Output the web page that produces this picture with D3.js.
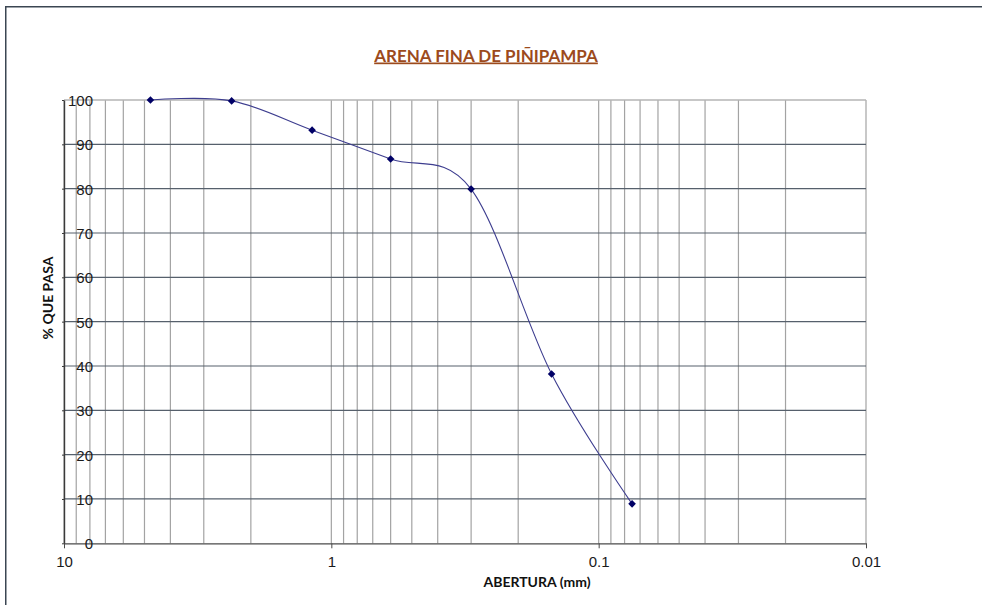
<!DOCTYPE html>
<html>
<head>
<meta charset="utf-8">
<script src="https://cdn.jsdelivr.net/npm/d3@7"></script>
<style>
  html, body { margin: 0; padding: 0; background: #ffffff; }
  svg { display: block; }
</style>
</head>
<body>
<svg id="chart" width="982" height="605"></svg>
<script>
// Granulometría: abertura de tamiz (mm) y porcentaje que pasa
const aberturas = [4.75, 2.36, 1.18, 0.6, 0.3, 0.15, 0.075];
const porcentajePasa = [100, 99.8, 93.2, 86.7, 79.9, 38.2, 8.9];

// Etiquetas de los ejes
const xTicksMayores = [10, 1, 0.1, 0.01];
const yTicks = [0, 10, 20, 30, 40, 50, 60, 70, 80, 90, 100];

const titulo = "ARENA FINA DE PIÑIPAMPA";
const tituloX = "ABERTURA (mm)";
const tituloY = "% QUE PASA";

const svg = d3.select("#chart");
const W = 982, H = 605;
const plot = { left: 64, right: 866, top: 100, bottom: 543.3 };

// Marco exterior del gráfico
svg.append("rect")
  .attr("x", 5.75).attr("y", 6.75)
  .attr("width", W + 20).attr("height", H + 20)
  .attr("fill", "#ffffff")
  .attr("stroke", "#3b4652").attr("stroke-width", 1.5);

const x = d3.scaleLog().domain([10, 0.01]).range([plot.left, plot.right]);
const y = d3.scaleLinear().domain([0, 100]).range([plot.bottom, plot.top]);

// Líneas de división verticales (mayores y menores de cada década)
const xGrid = [];
[1, 0.1, 0.01].forEach(base => {
  for (let m = 1; m <= 9; m++) xGrid.push(base * m);
});
xGrid.push(10);

svg.append("g").selectAll("line")
  .data(xGrid)
  .join("line")
  .attr("x1", d => x(d)).attr("x2", d => x(d))
  .attr("y1", plot.top).attr("y2", plot.bottom)
  .attr("stroke", "#a3a3a3").attr("stroke-width", 1.2);

// Líneas de división horizontales
svg.append("g").selectAll("line")
  .data(yTicks.filter(d => d > 0))
  .join("line")
  .attr("x1", plot.left).attr("x2", plot.right)
  .attr("y1", d => y(d)).attr("y2", d => y(d))
  .attr("stroke", d => d === 100 ? "#b4b4b4" : "#56606c")
  .attr("stroke-width", d => d === 100 ? 1.5 : 1.2);

// Eje X
const xAxis = d3.axisBottom(x)
  .tickValues(xTicksMayores)
  .tickFormat(d => String(d))
  .tickSize(5)
  .tickSizeOuter(0);
const gx = svg.append("g")
  .attr("transform", `translate(0,${plot.bottom})`)
  .call(xAxis);
gx.select(".domain").attr("stroke", "#4a4a4a").attr("stroke-width", 1.3);
gx.selectAll(".tick line").attr("stroke", "#4a4a4a");
gx.selectAll(".tick text")
  .attr("y", 13)
  .attr("font-family", "'Liberation Sans', Arial, sans-serif")
  .attr("font-size", 15)
  .attr("fill", "#1a1a1a");

// Eje Y
const gy = svg.append("g")
  .attr("transform", `translate(${plot.left},0)`)
  .call(d3.axisLeft(y).tickValues(yTicks).tickSize(2).tickSizeOuter(0));
gy.select(".domain").attr("stroke", "#3a3a3a").attr("stroke-width", 1.4);
gy.selectAll(".tick line").attr("stroke", "#3a3a3a");
gy.selectAll(".tick text")
  .attr("x", 29)
  .attr("dy", "0.36em")
  .attr("text-anchor", "end")
  .attr("font-family", "'Liberation Sans', Arial, sans-serif")
  .attr("font-size", 15)
  .attr("fill", "#1a1a1a");

// Curva granulométrica suavizada
const puntos = aberturas.map((a, i) => [a, porcentajePasa[i]]);
svg.append("path")
  .datum(puntos)
  .attr("fill", "none")
  .attr("stroke", "#3d3d8f")
  .attr("stroke-width", 1.1)
  .attr("d", d3.line()
    .x(d => x(d[0]))
    .y(d => y(d[1]))
    .curve(d3.curveCardinal.tension(0)));

// Marcadores en rombo
svg.append("g").selectAll("path")
  .data(puntos)
  .join("path")
  .attr("transform", d => `translate(${x(d[0])},${y(d[1])})`)
  .attr("d", "M0,-3.8L3.8,0L0,3.8L-3.8,0Z")
  .attr("fill", "#000066");

// Título
svg.append("text")
  .attr("x", 486).attr("y", 61.5)
  .attr("text-anchor", "middle")
  .attr("font-family", "Lato, 'Open Sans', sans-serif")
  .attr("font-weight", "bold")
  .attr("font-size", 17)
  .attr("text-decoration", "underline")
  .attr("fill", "#9c4a1c")
  .text(titulo);

// Título del eje X
svg.append("text")
  .attr("x", 537).attr("y", 587)
  .attr("text-anchor", "middle")
  .attr("font-family", "Lato, 'Open Sans', sans-serif")
  .attr("font-weight", "bold")
  .attr("font-size", 14)
  .attr("fill", "#111111")
  .text(tituloX);

// Título del eje Y
svg.append("text")
  .attr("transform", "translate(53,298) rotate(-90)")
  .attr("text-anchor", "middle")
  .attr("font-family", "Lato, 'Open Sans', sans-serif")
  .attr("font-weight", "bold")
  .attr("font-size", 14)
  .attr("fill", "#111111")
  .text(tituloY);
</script>
</body>
</html>
